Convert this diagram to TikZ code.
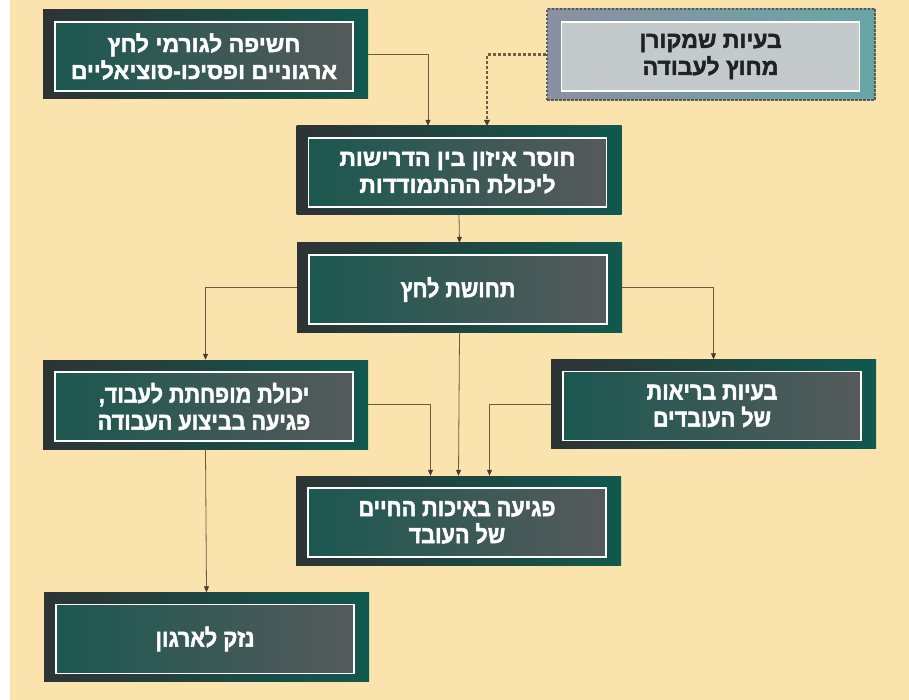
\documentclass[tikz,border=0pt]{standalone}
\usepackage{fontspec}
\usetikzlibrary{arrows.meta,calc}
\TeXXeTstate=1
\newfontfamily\hebwide[Script=Hebrew,BoldFeatures={FakeBold=2}]{Liberation Sans}
\newfontfamily\hebnarrow[Script=Hebrew,FakeStretch=0.88,BoldFeatures={FakeBold=2}]{Liberation Sans}
\newcommand\hebline[1]{\beginR #1\endR}
\definecolor{bgc}{HTML}{FBE3AD}
\definecolor{outL}{HTML}{2C3434}
\definecolor{outR}{HTML}{11584F}
\definecolor{inL}{HTML}{1B5850}
\definecolor{inR}{HTML}{555A5B}
\definecolor{lineC}{HTML}{6B5A42}
\definecolor{tipC}{HTML}{4A3C2C}
\definecolor{bOutL}{HTML}{8A8FA2}
\definecolor{bOutR}{HTML}{68A6A6}
\definecolor{bIn}{HTML}{C4C9C9}
\definecolor{bText}{HTML}{1E2222}
\definecolor{dotC}{HTML}{5A5A55}
\definecolor{dotL}{HTML}{6E5E45}
\begin{document}
\begin{tikzpicture}[x=1pt,y=-1pt,
  outerbox/.style={minimum width=325pt, minimum height=89pt, inner sep=0pt,
    left color=outL, right color=outR},
  innerbox/.style={minimum width=298pt, minimum height=69pt, inner sep=0pt,
    draw=white, line width=1.4pt, left color=inL, right color=inR,
    text=white, align=center},
  widefont/.style={font=\hebwide\bfseries\fontsize{23}{27}\selectfont},
  narrowfont/.style={font=\hebnarrow\bfseries\fontsize{24.5}{27}\selectfont},
  conn/.style={draw=lineC, line width=0.8pt, -{Triangle[length=6pt,width=5pt,color=tipC]}},
  dotconn/.style={draw=dotL, line width=2.2pt, dash pattern=on 3pt off 2pt,
    -{Triangle[length=6pt,width=6pt,color=tipC]}}
]
\useasboundingbox (0,0) rectangle (909,700);
\fill[white] (0,0) rectangle (909,700);
\fill[bgc] (10,0) rectangle (909,700);

% outer boxes
\node[outerbox] (a) at (205.5,54.5) {};
\node[outerbox, minimum width=328pt, minimum height=91pt, left color=bOutL, right color=bOutR,
      draw=dotC, line width=2.6pt, dash pattern=on 2.5pt off 1.5pt] (b) at (711,54.5) {};
\node[outerbox] (c) at (459,170.5) {};
\node[outerbox] (d) at (459.5,287.5) {};
\node[outerbox] (e) at (205.5,404.5) {};
\node[outerbox] (f) at (713.5,404) {};
\node[outerbox] (g) at (458.5,520.5) {};
\node[outerbox] (h) at (206.5,637) {};

% inner boxes with text
\node[innerbox, widefont] (a-in) at ($(a.center)+(-1.5,2)$)
  {\hebline{חשיפה לגורמי לחץ}\\\hebline{ארגוניים ופסיכו-סוציאליים}};
\node[innerbox, widefont, left color=bIn, right color=bIn, text=bText] (b-in) at ($(b.center)+(-0.5,2)$)
  {\hebline{בעיות שמקורן}\\\hebline{מחוץ לעבודה}};
\node[innerbox, widefont] (c-in) at ($(c.center)+(-1.5,2)$)
  {\hebline{חוסר איזון בין הדרישות}\\\hebline{ליכולת ההתמודדות}};
\node[innerbox, narrowfont] (d-in) at ($(d.center)+(-1.5,2)$)
  {\hebline{תחושת לחץ}};
\node[innerbox, narrowfont] (e-in) at ($(e.center)+(-1.5,2)$)
  {\hebline{יכולת מופחתת לעבוד,}\\\hebline{פגיעה בביצוע העבודה}};
\node[innerbox, narrowfont] (f-in) at ($(f.center)+(-1.5,2)$)
  {\hebline{בעיות בריאות}\\\hebline{של העובדים}};
\node[innerbox, narrowfont] (g-in) at ($(g.center)+(-1.5,2)$)
  {\hebline{פגיעה באיכות החיים}\\\hebline{של העובד}};
\node[innerbox, narrowfont] (h-in) at ($(h.center)+(-1.5,2)$)
  {\hebline{נזק לארגון}};

% connectors
\draw[conn] (a.east) -| ([xshift=-31pt]c.north);
\draw[dotconn] (b.west) -| ([xshift=28pt]c.north);
\draw[conn] (c.south) -- (d.north);
\draw[conn] (d.west) -| (e.north);
\draw[conn] (d.east) -| (f.north);
\draw[conn] (d.south) -- (g.north);
\draw[conn] (e.east) -| ([xshift=-28pt]g.north);
\draw[conn] (f.west) -| ([xshift=31pt]g.north);
\draw[conn] (e.south) -- (h.north);
\end{tikzpicture}
\end{document}
